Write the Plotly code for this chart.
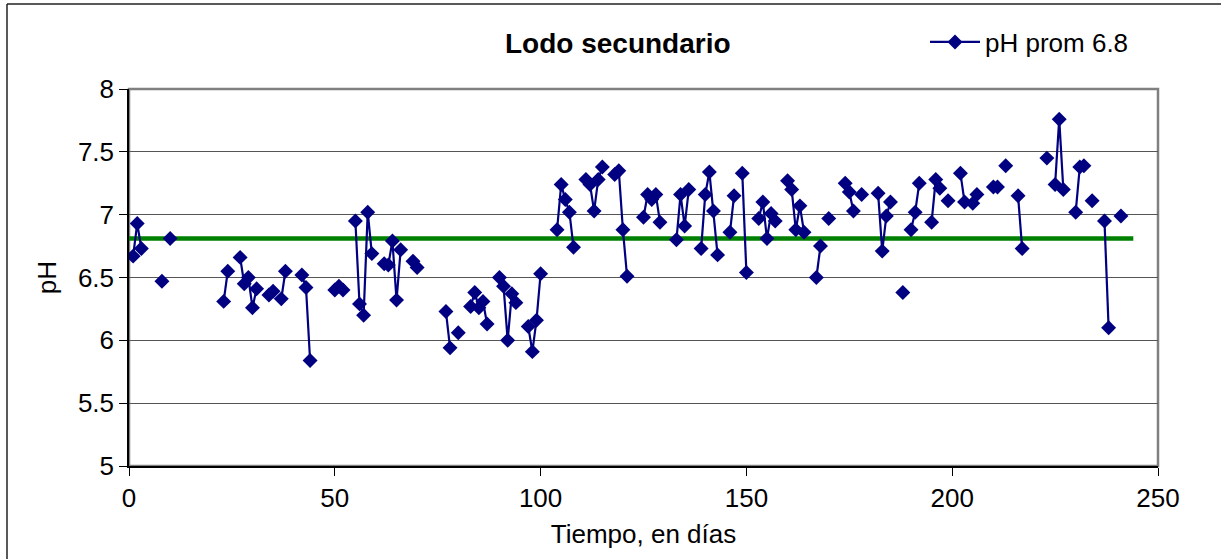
import plotly.graph_objects as go

days = [1, 2, 3, 8, 10, 23, 24, 27, 28, 29, 30, 31, 34, 35, 37, 38, 42, 43, 44,
        50, 51, 52, 55, 56, 57, 58, 59, 62, 63, 64, 65, 66, 69, 70, 77, 78, 80,
        83, 84, 85, 86, 87, 90, 91, 92, 93, 94, 97, 98, 99, 100,
        104, 105, 106, 107, 108, 111, 112, 113, 114, 115, 118, 119, 120, 121,
        125, 126, 127, 128, 129, 133, 134, 135, 136, 139, 140, 141, 142, 143,
        146, 147, 149, 150, 153, 154, 155, 156, 157, 160, 161, 162, 163, 164,
        167, 168, 170, 174, 175, 176, 178, 182, 183, 184, 185, 188, 190, 191, 192,
        195, 196, 197, 199, 202, 203, 205, 206, 210, 211, 213, 216, 217,
        223, 225, 226, 227, 230, 231, 232, 234, 237, 238, 241]
ph = [6.67, 6.93, 6.73, 6.47, 6.81, 6.31, 6.55, 6.66, 6.45, 6.50, 6.26, 6.41, 6.36, 6.39, 6.33, 6.55, 6.52, 6.42, 5.84,
      6.40, 6.43, 6.40, 6.95, 6.29, 6.20, 7.02, 6.69, 6.61, 6.60, 6.79, 6.32, 6.72, 6.63, 6.58, 6.23, 5.94, 6.06,
      6.27, 6.38, 6.26, 6.31, 6.13, 6.50, 6.43, 6.00, 6.37, 6.30, 6.11, 5.91, 6.16, 6.53,
      6.88, 7.24, 7.12, 7.02, 6.74, 7.28, 7.24, 7.03, 7.28, 7.38, 7.32, 7.35, 6.88, 6.51,
      6.98, 7.16, 7.12, 7.16, 6.94, 6.80, 7.16, 6.91, 7.20, 6.73, 7.16, 7.34, 7.03, 6.68,
      6.86, 7.15, 7.33, 6.54, 6.97, 7.10, 6.81, 7.01, 6.95, 7.27, 7.20, 6.88, 7.07, 6.86,
      6.50, 6.75, 6.97, 7.25, 7.18, 7.03, 7.16, 7.17, 6.71, 6.99, 7.10, 6.38, 6.88, 7.02, 7.25,
      6.94, 7.28, 7.21, 7.11, 7.33, 7.10, 7.09, 7.16, 7.22, 7.22, 7.39, 7.15, 6.73,
      7.45, 7.24, 7.76, 7.20, 7.02, 7.38, 7.39, 7.11, 6.95, 6.10, 6.99]

avg_x = [0, 244]
avg_y = [6.81, 6.81]

title_text = "Lodo secundario"
series_name = "pH prom 6.8"
x_title = "Tiempo, en días"
y_title = "pH"

# break the line where sampling days are not consecutive
xs, ys = [], []
for i, (d, v) in enumerate(zip(days, ph)):
    if i > 0 and d - days[i - 1] > 1:
        xs.append(None)
        ys.append(None)
    xs.append(d)
    ys.append(v)

FONT = "Liberation Sans, Arial, sans-serif"
W, H = 1221, 559
L, R, T, B = 129, 63, 89, 93
pw = W - L - R
ph_ = H - T - B


def px2x(px):
    return (px - L) / pw


def py2y(py):
    return (H - B - py) / ph_


fig = go.Figure()
fig.add_trace(go.Scatter(
    x=avg_x, y=avg_y, mode="lines",
    line=dict(color="#008000", width=4.5),
    showlegend=False, hoverinfo="skip"))
fig.add_trace(go.Scatter(
    x=xs, y=ys, mode="lines+markers", name=series_name,
    line=dict(color="#000080", width=2.2),
    marker=dict(symbol="diamond", size=11.5, color="#000080",
                line=dict(color="#000080", width=0)),
    connectgaps=False))

fig.update_layout(
    width=W, height=H,
    margin=dict(l=L, r=R, t=T, b=B),
    paper_bgcolor="white", plot_bgcolor="white",
    font=dict(family=FONT, size=26, color="black"),
    showlegend=True,
    legend=dict(x=px2x(925), y=py2y(42), xanchor="left", yanchor="middle",
                itemwidth=50,
                font=dict(size=26, family=FONT), bgcolor="rgba(0,0,0,0)",
                borderwidth=0),
    annotations=[dict(text="<b>" + title_text + "</b>", x=px2x(618), y=py2y(44),
                      xref="paper", yref="paper", showarrow=False,
                      font=dict(size=28, family=FONT), xanchor="center", yanchor="middle")],
    shapes=[
        dict(type="rect", xref="paper", yref="paper", x0=0, y0=0, x1=1, y1=1,
             line=dict(color="#808080", width=2.5), layer="below"),
        dict(type="line", xref="paper", yref="paper", x0=px2x(7), x1=px2x(7),
             y0=py2y(4), y1=py2y(565), line=dict(color="#222", width=1.5)),
        dict(type="line", xref="paper", yref="paper", x0=px2x(7), x1=px2x(1230),
             y0=py2y(4), y1=py2y(4), line=dict(color="#222", width=1.5)),
    ],
)

fig.update_xaxes(
    range=[0, 250], dtick=50, tick0=0,
    showgrid=False, zeroline=False,
    showline=True, linecolor="black", linewidth=1.5,
    ticks="outside", ticklen=8, tickcolor="black", tickwidth=1,
    tickfont=dict(size=26, family=FONT),
    title=dict(text=x_title, font=dict(size=26, family=FONT), standoff=13),
)
fig.update_yaxes(
    range=[5, 8], dtick=0.5, tick0=5,
    showgrid=True, gridcolor="#555555", gridwidth=1,
    zeroline=False,
    showline=True, linecolor="black", linewidth=1.5,
    ticks="outside", ticklen=8, tickcolor="black", tickwidth=1,
    tickfont=dict(size=26, family=FONT),
    title=dict(text=y_title, font=dict(size=26, family=FONT), standoff=14),
)

fig.write_html("out.html")
